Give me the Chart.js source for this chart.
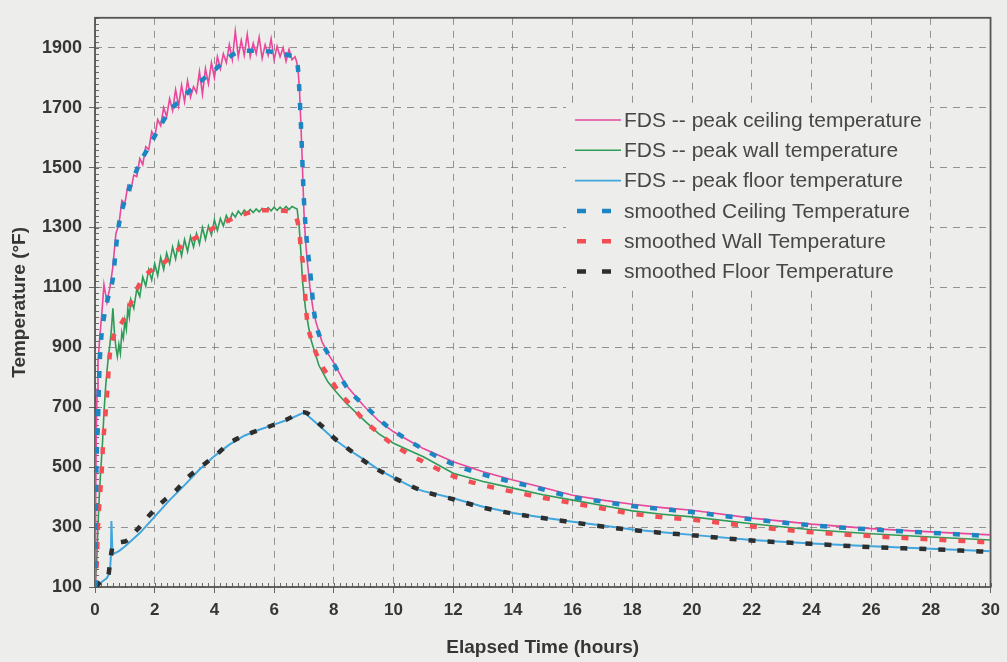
<!DOCTYPE html>
<html>
<head>
<meta charset="utf-8">
<script src="https://cdn.jsdelivr.net/npm/chart.js@4.4.1/dist/chart.umd.min.js"></script>
<style>
html,body{margin:0;padding:0;background:#ededeb;overflow:hidden;}
canvas{display:block;}
</style>
</head>
<body>
<canvas id="c" width="1007" height="662"></canvas>
<script>
// ---------- DATA ----------
const xTicks = [0,2,4,6,8,10,12,14,16,18,20,22,24,26,28,30];
const yTicks = [100,300,500,700,900,1100,1300,1500,1700,1900];

// FDS -- peak ceiling temperature
const ceilT = [0,0.02,0.04,0.07,0.1,0.15,0.2,0.25,
  0.3,0.4,0.5,0.6,0.7,0.8,0.9,1.0,1.1,1.2,
  1.3,1.4,1.5,1.6,1.7,1.8,1.9,2.0,2.1,2.2,
  2.3,2.4,2.5,2.6,2.7,2.8,2.9,3.0,3.1,3.2,
  3.3,3.4,3.5,3.6,3.7,3.8,3.9,4.0,4.1,4.2,
  4.3,4.4,4.5,4.6,4.7,4.8,4.9,5.0,5.1,5.2,
  5.3,5.4,5.5,5.6,5.7,5.8,5.9,6.0,6.1,6.2,
  6.3,6.4,6.5,6.6,6.7,
  6.75,6.8,6.85,6.9,6.95,7.0,7.05,7.1,7.2,7.3,7.4,7.6,7.8,8.0,8.4,9.0,9.5,10,10.7,11,
  12,13,14,15,16,17,18,19,20,22,24,26,28,30];
const ceilV = [100,350,600,760,850,920,980,1040,
  1110,1050,1100,1170,1280,1310,1390,1380,1440,1425,
  1475,1470,1530,1510,1570,1560,1620,1600,1660,1640,
  1700,1670,1730,1690,1760,1705,1775,1720,1790,1735,
  1770,1750,1820,1745,1830,1780,1850,1800,1870,1830,
  1880,1850,1910,1860,1955,1870,1925,1875,1945,1870,
  1915,1880,1935,1865,1910,1875,1930,1860,1905,1870,
  1900,1855,1895,1860,1870,
  1855,1830,1760,1640,1500,1350,1260,1200,1100,1030,985,920,880,848,775,705,655,618,578,562,
  518,485,457,432,406,390,376,365,356,330,310,295,284,274];

// FDS -- peak wall temperature
const wallT = [0,0.05,0.1,0.15,0.2,0.25,0.3,0.35,0.4,0.45,0.5,0.55,0.6,0.65,0.7,0.75,0.8,0.85,0.9,0.95,1.0,1.05,1.1,1.15,
  1.2,1.3,1.4,1.5,1.6,1.7,1.8,1.9,2.0,2.1,
  2.2,2.3,2.4,2.5,2.6,2.7,2.8,2.9,3.0,3.1,
  3.2,3.3,3.4,3.5,3.6,3.7,3.8,3.9,4.0,4.1,
  4.2,4.3,4.4,4.5,4.6,4.7,4.8,4.9,5.0,5.1,
  5.2,5.3,5.4,5.5,5.6,5.7,5.8,5.9,6.0,6.1,
  6.2,6.3,6.4,6.5,6.6,6.7,
  6.77,6.84,6.9,6.95,7.05,7.15,7.25,7.5,7.8,8.0,
  8.4,9.0,9.5,10,10.7,11,12,13,14,15,
  16,17,18,19,20,22,24,26,28,30];
const wallV = [100,170,300,420,500,580,680,760,820,870,910,960,1030,950,900,870,910,880,950,930,990,960,1030,1000,
  1060,1030,1095,1070,1135,1105,1160,1125,1180,1140,
  1200,1160,1215,1180,1235,1195,1250,1205,1260,1220,
  1270,1235,1280,1245,1300,1260,1305,1275,1325,1290,
  1330,1305,1340,1320,1348,1335,1355,1342,1358,1348,
  1360,1350,1362,1352,1364,1355,1366,1356,1368,1357,
  1368,1358,1370,1360,1370,1365,
  1362,1303,1211,1122,1030,970,920,840,785,760,
  715,658,612,580,548,535,480,452,430,408,
  390,372,354,343,334,311,291,278,267,257];

// FDS -- peak floor temperature
const floorT = [0,0.2,0.4,0.5,0.53,0.55,0.58,0.6,0.8,1.0,
  1.5,2.0,2.5,3.0,3.5,4.0,4.5,5.0,5.5,6.0,
  6.5,6.9,7.0,7.5,8.0,8.5,9.0,9.5,10,10.7,
  11,12,13,14,15,16,17,18,19,20,
  22,24,26,28,30];
const floorV = [100,115,130,150,200,320,230,210,220,235,
  280,335,390,440,492,537,575,605,625,642,
  660,678,683,640,594,558,526,492,465,430,
  420,396,368,347,332,318,305,292,283,274,
  257,245,236,228,219];

// smoothed Ceiling Temperature
const sCeilT = [0,0.05,0.1,0.15,0.2,0.3,0.4,0.5,0.6,0.7,
  0.8,1.0,1.25,1.5,1.75,2.0,2.25,2.5,2.75,3.0,
  3.5,4.0,4.5,5.0,5.5,6.0,6.5,6.7,6.8,6.9,
  7.0,7.1,7.2,7.35,7.55,7.8,8.0,8.4,9.2,9.75,
  10.25,11,12,13,14,15,16,17,18,19,
  20,22,24,26,28,30];
const sCeilV = [100,500,650,830,920,1000,1050,1090,1130,1230,
  1310,1390,1455,1515,1560,1605,1650,1690,1715,1740,
  1785,1825,1870,1890,1890,1885,1875,1865,1830,1640,
  1390,1250,1160,1010,930,880,845,772,690,640,
  605,560,510,476,450,426,400,385,370,360,
  350,326,306,292,281,270];

// smoothed Wall Temperature
const sWallT = [0,0.05,0.1,0.17,0.23,0.27,0.33,0.4,0.45,0.5,
  0.6,0.75,1.0,1.27,1.6,2.0,2.4,3.0,3.4,4.0,
  4.4,5.0,5.7,6.4,6.7,6.84,6.9,7.0,7.05,7.1,
  7.27,7.6,7.84,8.17,8.5,9.0,9.4,9.9,10.4,11,
  12,13,14,15,16,17,18,19,20,22,
  24,26,28,30];
const sWallV = [100,160,300,410,496,578,650,739,815,880,
  930,960,1000,1065,1130,1165,1190,1245,1267,1300,
  1320,1345,1358,1355,1340,1290,1225,1150,1060,995,
  920,838,803,750,714,658,622,582,550,518,
  470,440,418,398,380,362,345,333,325,302,
  283,270,259,249];

// smoothed Floor Temperature
const sFloorT = [0,0.3,0.45,0.5,0.55,0.6,1.0,1.4,1.83,2.27,
  2.74,3.1,3.6,4.07,4.5,5.17,5.74,6.4,7.0,7.57,
  8.0,8.5,9.0,9.5,10,11,12,13,14,15,
  16,17,18,19,20,22,24,26,28,30];
const sFloorV = [100,125,140,180,215,238,252,290,340,385,
  425,465,505,542,580,612,632,658,683,640,
  598,560,522,490,465,420,393,365,345,330,
  316,302,290,281,273,255,244,233,226,217];

const seriesLabels = [
  'FDS -- peak ceiling temperature',
  'FDS -- peak wall temperature',
  'FDS -- peak floor temperature',
  'smoothed Ceiling Temperature',
  'smoothed Wall Temperature',
  'smoothed Floor Temperature'
];

// ---------- STYLE ----------
const BG = '#ededeb';
const FONT = '"Liberation Sans", Arial, Helvetica, sans-serif';
const TXT = '#363636';
const minorXStep = 0.2, minorYStep = 20;

function pts(t, v) { return t.map((x, i) => ({x: x, y: v[i]})); }

const bgPlugin = {
  id: 'bg',
  beforeDraw(chart) {
    const c = chart.ctx;
    c.save(); c.fillStyle = BG; c.fillRect(0, 0, chart.width, chart.height); c.restore();
  }
};

const framePlugin = {
  id: 'frame',
  beforeDatasetsDraw(chart) {
    const {ctx, chartArea: a, scales: {x, y}} = chart;
    ctx.save();
    ctx.strokeStyle = '#6a6a6a';
    ctx.lineWidth = 1;
    ctx.beginPath();
    for (let v = x.min; v <= x.max + 1e-6; v += minorXStep) {
      const px = Math.round(x.getPixelForValue(v)) + 0.5;
      ctx.moveTo(px, a.bottom); ctx.lineTo(px, a.bottom - 4);
    }
    for (let v = y.min; v <= y.max + 1e-6; v += minorYStep) {
      const py = Math.round(y.getPixelForValue(v)) + 0.5;
      ctx.moveTo(a.left, py); ctx.lineTo(a.left + 4, py);
    }
    ctx.stroke();
    ctx.lineWidth = 1.8;
    ctx.strokeStyle = '#555';
    ctx.strokeRect(a.left, a.top, a.right - a.left, a.bottom - a.top);
    ctx.restore();
  }
};

const legendPlugin = {
  id: 'customLegend',
  afterDraw(chart, args, o) {
    const ctx = chart.ctx;
    ctx.save();
    ctx.fillStyle = BG;
    ctx.fillRect(o.boxX, o.boxY, o.boxW, o.boxH);
    ctx.font = o.fontSize + 'px ' + FONT;
    ctx.textBaseline = 'middle';
    ctx.textAlign = 'left';
    chart.data.datasets.forEach((ds, i) => {
      const yy = o.y + i * o.row;
      ctx.strokeStyle = ds.borderColor;
      ctx.setLineDash([]);
      ctx.beginPath();
      if (ds.borderDash && ds.borderDash.length) {
        ctx.lineWidth = 4.5;
        ctx.moveTo(o.x + 2, yy); ctx.lineTo(o.x + 11, yy);
        ctx.moveTo(o.x + 27, yy); ctx.lineTo(o.x + 36, yy);
      } else {
        ctx.lineWidth = 1.6;
        ctx.moveTo(o.x, yy); ctx.lineTo(o.x + 46, yy);
      }
      ctx.stroke();
      ctx.fillStyle = '#474747';
      ctx.fillText(ds.label, o.x + 49, yy + 1);
    });
    ctx.restore();
  }
};

const fdsCommon = {fill: false, pointRadius: 0, tension: 0, order: 1};
const smCommon = {fill: false, pointRadius: 0, cubicInterpolationMode: 'monotone', order: 0,
  borderWidth: 4.5, borderDash: [7, 12], borderCapStyle: 'butt'};

new Chart(document.getElementById('c'), {
  type: 'line',
  data: {
    datasets: [
      Object.assign({label: seriesLabels[0], data: pts(ceilT, ceilV), borderColor: '#e8479b', borderWidth: 1.6}, fdsCommon),
      Object.assign({label: seriesLabels[1], data: pts(wallT, wallV), borderColor: '#2e9b57', borderWidth: 1.6}, fdsCommon),
      Object.assign({label: seriesLabels[2], data: pts(floorT, floorV), borderColor: '#41a6dd', borderWidth: 2}, fdsCommon),
      Object.assign({label: seriesLabels[3], data: pts(sCeilT, sCeilV), borderColor: '#1c86c4'}, smCommon),
      Object.assign({label: seriesLabels[4], data: pts(sWallT, sWallV), borderColor: '#f24e54'}, smCommon),
      Object.assign({label: seriesLabels[5], data: pts(sFloorT, sFloorV), borderColor: '#2e2e2e'}, smCommon)
    ]
  },
  options: {
    responsive: false,
    animation: false,
    layout: {padding: {top: 12, right: 12, left: 0, bottom: 0}},
    plugins: {
      legend: {display: false},
      tooltip: {enabled: false},
      customLegend: {x: 575, y: 120, row: 30.3, fontSize: 21, boxX: 566, boxY: 104, boxW: 364, boxH: 184}
    },
    scales: {
      x: {
        type: 'linear', min: 0, max: 30,
        afterBuildTicks: s => { s.ticks = xTicks.map(v => ({value: v})); },
        afterFit: s => { s.height = 75; },
        grid: {color: 'rgba(115,115,115,0.75)', lineWidth: 1, drawTicks: true, tickLength: 6,
               tickColor: '#666', tickWidth: 1, tickBorderDash: []},
        border: {display: false, dash: [7, 6]},
        ticks: {color: TXT, font: {family: FONT, size: 17, weight: 'bold'}, padding: 7, maxRotation: 0, autoSkip: false,
                callback: v => String(v)},
        title: {display: true, text: 'Elapsed Time (hours)', color: TXT,
                font: {family: FONT, size: 19, weight: 'bold'}, padding: {top: 0, bottom: 3}}
      },
      y: {
        type: 'linear', min: 100, max: 2000,
        afterBuildTicks: s => { s.ticks = yTicks.map(v => ({value: v})); },
        afterFit: s => { s.width = 95; },
        grid: {color: 'rgba(115,115,115,0.75)', lineWidth: 1, drawTicks: true, tickLength: 6,
               tickColor: '#666', tickWidth: 1, tickBorderDash: []},
        border: {display: false, dash: [7, 6]},
        ticks: {color: TXT, font: {family: FONT, size: 18, weight: 'bold'}, padding: 7, autoSkip: false,
                callback: v => String(v)},
        title: {display: true, text: 'Temperature (°F)', color: TXT,
                font: {family: FONT, size: 19, weight: 'bold'}, padding: {top: 8, bottom: 0}}
      }
    }
  },
  plugins: [bgPlugin, framePlugin, legendPlugin]
});
</script>
</body>
</html>
